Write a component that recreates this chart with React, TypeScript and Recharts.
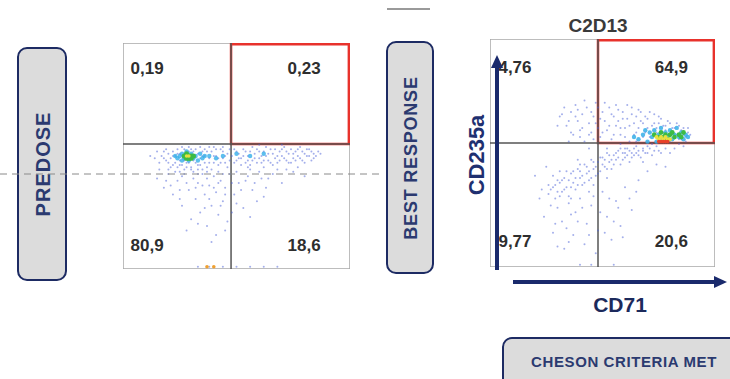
import { ScatterChart, Scatter, XAxis, YAxis, ReferenceLine, ReferenceArea } from 'recharts';

type Pt = [number, number];

// quadrant percentages
const predoseQuadrants = ['0,19', '0,23', '80,9', '18,6'];
const bestQuadrants = ['4,76', '64,9', '9,77', '20,6'];

// gates (CD71 / CD235a thresholds, % of axis)
const predoseGate = { x: 47.6, y: 55.3 };
const bestGate = { x: 48, y: 54.4 };

// predose events
const predoseBlue: Pt[] = [
  [17, 50], [19, 48], [20, 51], [21, 49], [22, 52], [23, 47], [23, 50], [24, 53], [25, 48], [25, 51],
  [26, 46], [26, 50], [27, 53], [28, 47], [29, 52], [30, 45], [30, 50], [31, 48], [32, 53], [33, 46],
  [33, 51], [34, 49], [35, 52], [36, 47], [36, 50], [37, 45], [38, 49], [39, 52], [40, 47], [41, 50],
  [42, 46], [43, 53], [44, 49], [45, 47], [46, 51], [47, 48], [14, 49], [16, 47], [18, 52], [21, 45],
  [24, 45], [27, 44], [31, 43], [35, 44], [39, 44], [12, 50], [15, 52], [29, 54], [34, 54], [38, 54],
  [18, 49], [20, 47], [22, 50], [24, 51], [25, 46], [27, 48], [28, 45], [29, 47], [31, 52], [32, 47],
  [34, 46], [35, 50], [37, 52], [38, 47], [40, 50], [41, 53], [42, 49], [43, 47], [44, 52], [45, 50],
  [46, 45], [47, 53], [19, 53], [22, 46], [26, 54], [30, 53], [36, 53], [40, 54], [44, 54], [33, 44],
  [37, 43], [42, 43], [25, 43], [20, 44],
  [48, 50], [49, 53], [50, 48], [51, 51], [52, 49], [53, 53], [54, 47], [55, 50], [56, 52], [57, 48],
  [58, 51], [59, 53], [60, 49], [61, 47], [62, 52], [63, 50], [64, 48], [65, 53], [66, 51], [67, 49],
  [68, 47], [69, 52], [70, 50], [71, 54], [72, 48], [73, 51], [74, 53], [75, 49], [76, 52], [77, 50],
  [78, 54], [79, 48], [80, 51], [81, 53], [82, 50], [83, 52], [84, 49], [86, 52], [57, 54], [63, 54],
  [52, 46], [66, 46], [74, 47],
  [49, 47], [50, 52], [51, 49], [53, 50], [54, 52], [55, 48], [56, 46], [58, 49], [59, 47], [60, 52],
  [61, 50], [62, 48], [64, 51], [65, 47], [67, 53], [68, 50], [69, 48], [70, 53], [71, 49], [72, 52],
  [73, 47], [75, 51], [76, 48], [77, 53], [78, 49], [79, 52], [80, 47], [81, 50], [82, 53], [83, 48],
  [84, 51], [85, 50], [87, 51], [60, 55], [70, 55], [55, 45], [62, 45], [77, 45],
  [15, 40], [18, 36], [20, 42], [22, 33], [24, 39], [26, 28], [27, 42], [29, 35], [30, 22], [31, 40],
  [32, 31], [33, 38], [34, 25], [35, 42], [36, 33], [37, 19], [38, 37], [39, 28], [40, 41], [41, 34],
  [42, 24], [43, 39], [44, 30], [45, 36], [46, 21], [47, 42], [49, 33], [51, 38], [53, 27], [55, 41],
  [57, 35], [59, 30], [61, 40], [63, 36], [66, 42], [70, 38], [75, 43], [80, 41], [28, 17], [41, 15],
  [16, 44], [19, 39], [21, 37], [23, 43], [25, 35], [26, 41], [28, 38], [30, 44], [32, 36], [33, 42],
  [35, 37], [37, 40], [38, 31], [40, 36], [42, 38], [44, 42], [45, 33], [48, 38], [50, 43], [52, 35],
  [54, 39], [56, 44], [58, 38], [60, 43], [64, 40], [68, 44], [36, 27], [43, 28], [48, 25], [33, 20],
  [39, 12], [45, 17], [50, 29], [25, 31], [56, 23], [62, 32], [72, 44],
  [33, 1], [38, 1], [44, 1], [50, 1], [56, 1], [62, 1], [68, 1],
];
const predoseCyan: Pt[] = [
  [24, 49], [25, 50], [26, 48], [26, 51], [27, 49], [28, 52], [29, 48], [30, 51], [31, 49], [32, 50],
  [33, 48], [34, 51], [35, 49], [36, 50], [38, 50], [23, 50], [41, 49], [44, 50], [50, 51], [56, 50], [62, 51],
];
const predoseGreen: Pt[] = [[27, 50], [28, 49], [28, 51], [29, 50], [30, 49], [30, 50], [31, 50], [29, 49]];
const predoseYellow: Pt[] = [[29, 50], [28, 50]];
const predoseOrange: Pt[] = [[37, 1], [40, 1]];

// best response events
const bestBlue: Pt[] = [
  [31, 66], [33, 70], [34, 62], [36, 68], [37, 58], [38, 71], [39, 64], [40, 60], [41, 67], [42, 55],
  [43, 70], [44, 63], [45, 59], [46, 66], [47, 72], [48, 61], [49, 57], [50, 68], [51, 64], [52, 60],
  [53, 70], [54, 56], [55, 66], [56, 62], [57, 69], [58, 58], [59, 65], [60, 61], [61, 71], [62, 55],
  [63, 67], [64, 63], [65, 59], [66, 69], [67, 64], [68, 57], [69, 66], [70, 61], [71, 68], [72, 54],
  [73, 63], [74, 59], [75, 66], [76, 56], [77, 62], [78, 60], [79, 64], [80, 55], [81, 61], [82, 58],
  [83, 63], [84, 56], [85, 60], [86, 58], [87, 55], [88, 59], [35, 55], [44, 52], [52, 52], [60, 52],
  [68, 51], [75, 51], [82, 52], [86, 53],
  [30, 62], [32, 67], [35, 64], [36, 59], [38, 66], [39, 69], [41, 61], [42, 73], [44, 58], [45, 68],
  [47, 63], [48, 70], [49, 65], [50, 59], [51, 72], [53, 62], [54, 67], [55, 58], [56, 71], [57, 64],
  [58, 61], [59, 68], [60, 57], [61, 65], [62, 62], [63, 70], [64, 58], [65, 66], [66, 61], [67, 68],
  [68, 63], [69, 59], [70, 65], [71, 57], [72, 62], [73, 67], [74, 61], [75, 63], [76, 65], [77, 59],
  [78, 62], [79, 58], [80, 63], [81, 59], [82, 61], [83, 58], [84, 62], [85, 56], [86, 61], [87, 57],
  [88, 61], [89, 58], [70, 53], [74, 53], [78, 52], [84, 54], [65, 55], [58, 54], [46, 56], [40, 57],
  [26, 32], [28, 35], [29, 30], [31, 37], [32, 33], [33, 39], [34, 35], [35, 31], [36, 41], [37, 37],
  [38, 34], [39, 43], [40, 39], [41, 36], [42, 45], [43, 41], [44, 38], [45, 47], [46, 43], [47, 40],
  [48, 46], [49, 42], [50, 48], [51, 44], [52, 50], [53, 46], [54, 43], [55, 49], [56, 47], [57, 51],
  [58, 45], [59, 50], [60, 48], [61, 52], [62, 46], [63, 50], [64, 49], [65, 53], [66, 51], [67, 48],
  [70, 50], [72, 49], [76, 50], [80, 50], [30, 38], [34, 42], [40, 45], [46, 36],
  [27, 34], [29, 36], [30, 33], [32, 38], [33, 34], [35, 38], [36, 35], [37, 42], [38, 39], [39, 36],
  [40, 42], [41, 40], [42, 37], [43, 44], [44, 42], [45, 39], [46, 46], [47, 44], [48, 41], [49, 48],
  [50, 45], [51, 47], [52, 43], [53, 49], [54, 47], [55, 45], [56, 50], [57, 48], [58, 52], [59, 47],
  [60, 50], [61, 49], [62, 51], [63, 48], [64, 52], [65, 50], [66, 49], [68, 52], [69, 50], [71, 52],
  [73, 51], [28, 40], [36, 30], [44, 33], [52, 39], [31, 42], [39, 47],
  [22, 30], [24, 22], [26, 36], [28, 15], [30, 26], [32, 20], [33, 8], [35, 28], [37, 14], [38, 24],
  [40, 30], [42, 10], [43, 19], [45, 27], [47, 6], [48, 16], [50, 33], [52, 22], [54, 12], [56, 29],
  [58, 18], [60, 35], [63, 25], [66, 38], [70, 42], [20, 40], [25, 44], [74, 45], [78, 44],
  [23, 34], [27, 27], [29, 19], [31, 31], [34, 17], [36, 23], [39, 20], [41, 26], [44, 14], [46, 31],
  [49, 24], [51, 15], [53, 30], [55, 20], [57, 26], [59, 13], [62, 30], [65, 33], [68, 46], [35, 11], [30, 9],
  [40, 1], [45, 1], [55, 1],
];
const bestCyan: Pt[] = [
  [66, 56], [68, 58], [70, 55], [71, 59], [72, 57], [73, 60], [74, 55], [75, 58], [76, 61], [77, 56],
  [78, 59], [79, 57], [80, 60], [81, 56], [82, 58], [83, 61], [84, 57], [85, 59], [86, 56], [87, 58],
  [88, 57], [69, 60], [64, 57],
];
const bestGreen: Pt[] = [
  [73, 58], [75, 57], [76, 59], [78, 58], [79, 56], [80, 58], [81, 59], [82, 57], [84, 58], [85, 57],
  [86, 59], [77, 57],
];
const bestYellow: Pt[] = [[74, 57], [75, 56], [76, 57], [77, 56], [78, 57], [79, 56], [80, 56]];
const bestRed: Pt[] = [[75, 55], [76, 55], [77, 55], [78, 55], [79, 55]];

const toPts = (arr: Pt[]) => arr.map(([x, y]) => ({ x, y }));

const NAVY = '#1d2b63';
const RED = '#e8322c';

const dot = (r: number, fill: string, opacity = 1) => (props: any) =>
  <circle cx={props.cx} cy={props.cy} r={r} fill={fill} fillOpacity={opacity} />;

const labelShape = (props: any) => (
  <text
    x={props.cx}
    y={props.cy}
    textAnchor="middle"
    dominantBaseline="central"
    fontFamily="'Liberation Sans', Arial, sans-serif"
    fontWeight="bold"
    fontSize={17}
    fill="#2e2e2e"
  >
    {props.payload.label}
  </text>
);

function quadLabels(values: string[], lx: number, rx: number, ty: number, by: number) {
  return [
    { x: lx, y: ty, label: values[0] },
    { x: rx, y: ty, label: values[1] },
    { x: lx, y: by, label: values[2] },
    { x: rx, y: by, label: values[3] },
  ];
}

interface PlotProps {
  width: number;
  height: number;
  gate: { x: number; y: number };
  series: { data: Pt[]; r: number; fill: string; opacity?: number }[];
  labels: { x: number; y: number; label: string }[];
}

function FlowPlot({ width, height, gate, series, labels }: PlotProps) {
  return (
    <ScatterChart width={width} height={height} margin={{ top: 0, right: 0, bottom: 0, left: 0 }}>
      <XAxis type="number" dataKey="x" domain={[0, 100]} hide />
      <YAxis type="number" dataKey="y" domain={[0, 100]} hide />
      <ReferenceArea x1={0} x2={100} y1={0} y2={100} fill="none" fillOpacity={0} stroke="#a8a8a8" strokeWidth={1.5} />
      {series.map((s, i) => (
        <Scatter key={i} data={toPts(s.data)} shape={dot(s.r, s.fill, s.opacity)} isAnimationActive={false} />
      ))}
      <ReferenceLine x={gate.x} stroke="#555" strokeWidth={1.5} />
      <ReferenceLine y={gate.y} stroke="#555" strokeWidth={1.5} />
      <ReferenceArea x1={gate.x} x2={99.5} y1={gate.y} y2={99.5} fill="none" fillOpacity={0} stroke={RED} strokeWidth={2.5} strokeOpacity={1} />
      <Scatter data={labels} shape={labelShape} isAnimationActive={false} />
    </ScatterChart>
  );
}

export default function App() {
  const font = "'Liberation Sans', Arial, sans-serif";
  return (
    <div style={{ position: 'absolute', left: 0, top: 0, width: 730, height: 379, background: '#fff', overflow: 'hidden' }}>
      <svg width={730} height={379} style={{ position: 'absolute', left: 0, top: 0 }}>
        <line x1={387} y1={9} x2={430} y2={9} stroke="#9a9a9a" strokeWidth={2} />
        <rect x={18} y={48} width={48} height={232} rx={9} fill="#dcdcdc" stroke={NAVY} strokeWidth={2} />
        <text transform="translate(43,164) rotate(-90)" textAnchor="middle" dominantBaseline="central"
          fontFamily={font} fontWeight="bold" fontSize={20} letterSpacing={1} fill="#2b3a70">PREDOSE</text>
        <rect x={387} y={42} width={46} height={231} rx={9} fill="#dcdcdc" stroke={NAVY} strokeWidth={2} />
        <text transform="translate(411,158) rotate(-90)" textAnchor="middle" dominantBaseline="central"
          fontFamily={font} fontWeight="bold" fontSize={18} letterSpacing={0.8} fill="#2b3a70">BEST RESPONSE</text>
        <text x={598} y={25} textAnchor="middle" dominantBaseline="central"
          fontFamily={font} fontWeight="bold" fontSize={19} fill="#3a3a3a">C2D13</text>
        <text transform="translate(476,155) rotate(-90)" textAnchor="middle" dominantBaseline="central"
          fontFamily={font} fontWeight="bold" fontSize={22} fill="#1f3070">CD235a</text>
        <text x={620} y={304} textAnchor="middle" dominantBaseline="central"
          fontFamily={font} fontWeight="bold" fontSize={21} fill="#1c2a5c">CD71</text>
        <rect x={503} y={338} width={240} height={60} rx={9} fill="#dcdcdc" stroke={NAVY} strokeWidth={2} />
        <text x={624} y={361} textAnchor="middle" dominantBaseline="central"
          fontFamily={font} fontWeight="bold" fontSize={15} letterSpacing={0.6} fill="#2b3a70">CHESON CRITERIA MET</text>
      </svg>
      <div style={{ position: 'absolute', left: 123, top: 43 }}>
        <FlowPlot
          width={227}
          height={226}
          gate={predoseGate}
          series={[
            { data: predoseBlue, r: 1, fill: '#4a5fd8', opacity: 0.5 },
            { data: predoseOrange, r: 1.8, fill: '#f0a030' },
            { data: predoseCyan, r: 2.2, fill: '#35aee8', opacity: 0.8 },
            { data: predoseGreen, r: 2.6, fill: '#3cbb45' },
            { data: predoseYellow, r: 1.8, fill: '#e8e040' },
          ]}
          labels={quadLabels(predoseQuadrants, 10.6, 79.8, 88.5, 10.6)}
        />
      </div>
      <div style={{ position: 'absolute', left: 490, top: 39 }}>
        <FlowPlot
          width={225}
          height={228}
          gate={bestGate}
          series={[
            { data: bestBlue, r: 1, fill: '#4a5fd8', opacity: 0.5 },
            { data: bestCyan, r: 2.2, fill: '#35aee8', opacity: 0.85 },
            { data: bestGreen, r: 2.4, fill: '#3cbb45' },
            { data: bestYellow, r: 2, fill: '#e8e040' },
            { data: bestRed, r: 1.8, fill: '#e8402a' },
          ]}
          labels={quadLabels(bestQuadrants, 11.1, 80.6, 87.7, 11)}
        />
      </div>
      <svg width={730} height={379} style={{ position: 'absolute', left: 0, top: 0, pointerEvents: 'none' }}>
        <line x1={0} y1={174} x2={382} y2={174} stroke="#8a8a8a" strokeWidth={1} strokeDasharray="7 5" />
        <line x1={497} y1={270} x2={497} y2={66} stroke="#1a2a6c" strokeWidth={4} />
        <polygon points="497,55 491,68 503,68" fill="#1a2a6c" />
        <line x1={513} y1={282} x2={716} y2={282} stroke="#1a2a6c" strokeWidth={4} />
        <polygon points="727,282 714,276 714,288" fill="#1a2a6c" />
      </svg>
    </div>
  );
}
